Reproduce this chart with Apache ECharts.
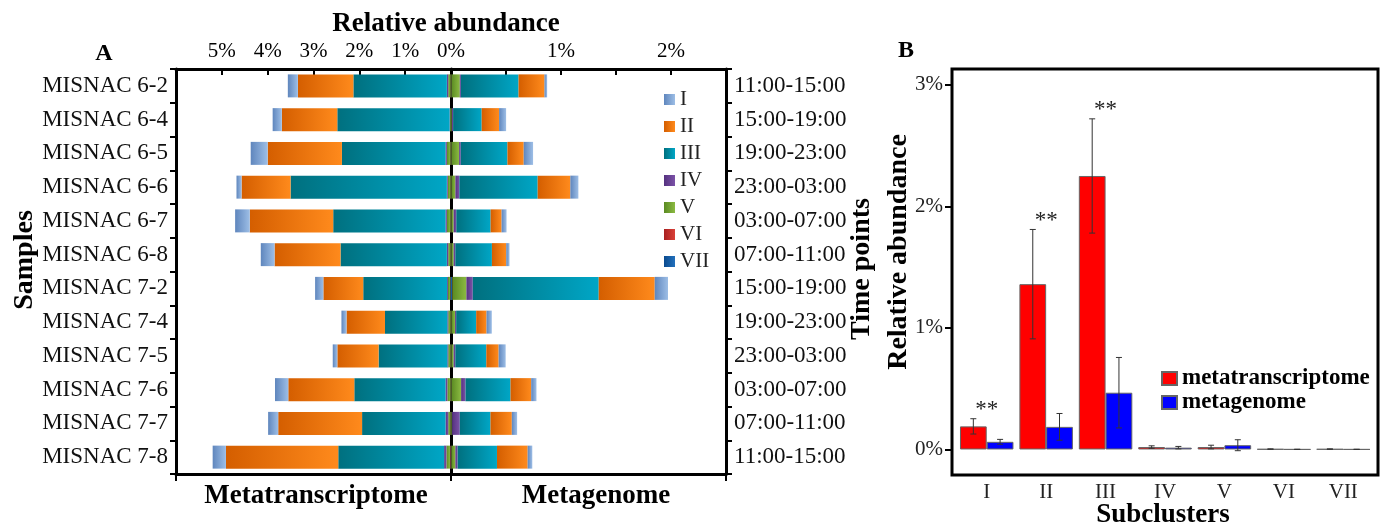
<!DOCTYPE html>
<html>
<head>
<meta charset="utf-8">
<script src="https://cdn.jsdelivr.net/npm/echarts@6/dist/echarts.min.js"></script>
<style>
  html, body { margin: 0; padding: 0; background: #fff; }
  #chart { width: 1385px; height: 528px; }
</style>
</head>
<body>
<div id="chart"></div>
<script>
const samples = ['MISNAC 6-2', 'MISNAC 6-4', 'MISNAC 6-5', 'MISNAC 6-6', 'MISNAC 6-7', 'MISNAC 6-8',
  'MISNAC 7-2', 'MISNAC 7-4', 'MISNAC 7-5', 'MISNAC 7-6', 'MISNAC 7-7', 'MISNAC 7-8']
const timePoints = ['11:00-15:00', '15:00-19:00', '19:00-23:00', '23:00-03:00', '03:00-07:00', '07:00-11:00',
  '15:00-19:00', '19:00-23:00', '23:00-03:00', '03:00-07:00', '07:00-11:00', '11:00-15:00']
const subclusters = ['I', 'II', 'III', 'IV', 'V', 'VI', 'VII']

// panel A, metatranscriptome (%), one array per subcluster
const txI = [0.22, 0.20, 0.37, 0.11, 0.32, 0.30, 0.18, 0.11, 0.10, 0.29, 0.22, 0.29]
const txII = [1.21, 1.21, 1.62, 1.07, 1.82, 1.44, 0.87, 0.84, 0.90, 1.44, 1.83, 2.45]
const txIII = [2.04, 2.45, 2.26, 3.41, 2.45, 2.32, 1.83, 1.36, 1.50, 1.99, 1.82, 2.31]
const txIV = [0.03, 0.01, 0.03, 0.02, 0.03, 0.03, 0.02, 0.02, 0.02, 0.04, 0.06, 0.05]
const txV = [0.05, 0.015, 0.08, 0.06, 0.08, 0.05, 0.05, 0.05, 0.05, 0.07, 0.05, 0.08]
const txVI = [0.005, 0.003, 0.005, 0.005, 0.005, 0.005, 0.005, 0.005, 0.005, 0.005, 0.005, 0.01]
const txVII = [0.005, 0.003, 0.005, 0.005, 0.005, 0.005, 0.01, 0.005, 0.005, 0.005, 0.005, 0.01]

// panel A, metagenome (%)
const mgI = [0.024, 0.064, 0.085, 0.073, 0.045, 0.030, 0.121, 0.048, 0.064, 0.048, 0.048, 0.042]
const mgII = [0.236, 0.158, 0.148, 0.297, 0.100, 0.130, 0.509, 0.094, 0.112, 0.188, 0.194, 0.279]
const mgIII = [0.524, 0.260, 0.424, 0.712, 0.312, 0.333, 1.145, 0.182, 0.282, 0.409, 0.279, 0.358]
const mgIV = [0.010, 0.010, 0.015, 0.036, 0.024, 0.015, 0.058, 0.010, 0.015, 0.040, 0.070, 0.020]
const mgV = [0.076, 0.005, 0.070, 0.036, 0.020, 0.020, 0.127, 0.033, 0.020, 0.088, 0.006, 0.036]
const mgVI = [0.002, 0.002, 0.002, 0.002, 0.002, 0.002, 0.003, 0.002, 0.002, 0.002, 0.002, 0.002]
const mgVII = [0.002, 0.002, 0.002, 0.002, 0.002, 0.002, 0.010, 0.002, 0.002, 0.002, 0.002, 0.002]

// panel B, means and errors (%)
const meanTx = [0.19, 1.36, 2.25, 0.02, 0.02, 0.003, 0.003]
const errTx = [0.063, 0.45, 0.47, 0.01, 0.015, 0.002, 0.002]
const meanMg = [0.063, 0.186, 0.467, 0.015, 0.035, 0.001, 0.001]
const errMg = [0.02, 0.11, 0.29, 0.01, 0.045, 0.001, 0.001]
const significant = [true, true, true, false, false, false, false]

const serif = "'Liberation Serif', 'Times New Roman', serif"

const shades = {
  I: ['#5F86BD', '#9DBEE6'],
  II: ['#D45E00', '#FF8A1C'],
  III: ['#00707F', '#00A6C6'],
  IV: ['#55327F', '#7C52A8'],
  V: ['#5A8A22', '#8BBA42'],
  VI: ['#A82020', '#DA4038'],
  VII: ['#0A4A8E', '#2270BC']
}
const grad = name => new echarts.graphic.LinearGradient(0, 0, 1, 0, [
  { offset: 0, color: shades[name][0] },
  { offset: 1, color: shades[name][1] }
])

const txData = { I: txI, II: txII, III: txIII, IV: txIV, V: txV, VI: txVI, VII: txVII }
const mgData = { I: mgI, II: mgII, III: mgIII, IV: mgIV, V: mgV, VI: mgVI, VII: mgVII }
const stackOrder = ['VII', 'VI', 'V', 'IV', 'III', 'II', 'I']

const chart = echarts.init(document.getElementById('chart'))

const black = { show: true, onZero: false, lineStyle: { color: '#000', width: 3 } }
const tickStyle = { color: '#000', width: 2 }

const series = []
stackOrder.forEach(name => {
  series.push({
    name, type: 'bar', stack: 'tx', xAxisIndex: 0, yAxisIndex: 0,
    barWidth: 23, data: txData[name], itemStyle: { color: grad(name) }
  })
  series.push({
    name, type: 'bar', stack: 'mg', xAxisIndex: 1, yAxisIndex: 1,
    barWidth: 23, data: mgData[name], itemStyle: { color: grad(name) }
  })
})

series.push({
  name: 'metatranscriptome', type: 'bar', xAxisIndex: 4, yAxisIndex: 3,
  data: meanTx, barGap: 0, barCategoryGap: '10%',
  itemStyle: { color: '#FF0000', borderColor: '#666', borderWidth: 1 }
})
series.push({
  name: 'metagenome', type: 'bar', xAxisIndex: 4, yAxisIndex: 3,
  data: meanMg, barGap: 0, barCategoryGap: '10%',
  itemStyle: { color: '#0000FF', borderColor: '#666', borderWidth: 1 }
})

const errorSeries = (means, errs, side, stars) => ({
  type: 'custom', xAxisIndex: 4, yAxisIndex: 3, z: 5, silent: true,
  data: means.map((m, i) => [i, m, errs[i], stars && significant[i] ? 1 : 0]),
  encode: { x: 0, y: 1 },
  renderItem: (params, api) => {
    const i = api.value(0), m = api.value(1), e = api.value(2)
    const band = api.size([1, 0])[0]
    const bw = band * 0.9 / 2
    const center = api.coord([i, m])[0]
    const x = center + side * bw / 2
    const top = api.coord([i, m + e])[1]
    const bot = api.coord([i, m - e])[1]
    const st = { stroke: '#333', lineWidth: 1 }
    const children = [
      { type: 'line', shape: { x1: x, y1: top, x2: x, y2: bot }, style: st },
      { type: 'line', shape: { x1: x - 3, y1: top, x2: x + 3, y2: top }, style: st },
      { type: 'line', shape: { x1: x - 3, y1: bot, x2: x + 3, y2: bot }, style: st }
    ]
    if (api.value(3)) {
      children.push({
        type: 'text', x: center, y: top - 9,
        style: { text: '**', font: '23px ' + serif, fill: '#222', textAlign: 'center', textVerticalAlign: 'middle' }
      })
    }
    return { type: 'group', children }
  }
})
series.push(errorSeries(meanTx, errTx, -1, true))
series.push(errorSeries(meanMg, errMg, 1, false))

const text = (t, x, y, size, bold, rot) => ({
  type: 'text', x, y, rotation: rot || 0,
  style: {
    text: t, font: (bold ? 'bold ' : '') + size + 'px ' + serif, fill: '#000',
    textAlign: 'center', textVerticalAlign: 'middle'
  }
})

const option = {
  animation: false,
  backgroundColor: '#fff',
  grid: [
    { left: 176, top: 69, width: 275, height: 405 },
    { left: 451, top: 69, width: 275, height: 405 },
    { left: 952, top: 69, width: 426, height: 406, show: true, borderColor: '#000', borderWidth: 3, backgroundColor: 'transparent' },
    { left: 957, top: 69, width: 416, height: 406 }
  ],
  xAxis: [
    {
      gridIndex: 0, type: 'value', min: 0, max: 6, interval: 1, inverse: true, position: 'top',
      axisLine: black, axisTick: { show: true, inside: true, length: 6, lineStyle: tickStyle },
      splitLine: { show: false },
      axisLabel: { margin: 7, fontFamily: serif, fontSize: 21, color: '#000', formatter: v => v === 6 ? '' : v + '%' }
    },
    {
      gridIndex: 1, type: 'value', min: 0, max: 2.5, interval: 0.5, position: 'top',
      axisLine: black, axisTick: { show: true, inside: true, length: 6, lineStyle: tickStyle },
      splitLine: { show: false },
      axisLabel: { margin: 7, fontFamily: serif, fontSize: 21, color: '#000', formatter: v => (v === 1 || v === 2) ? v + '%' : '' }
    },
    {
      gridIndex: 0, type: 'value', min: 0, max: 6, inverse: true, position: 'bottom',
      axisLine: black, axisTick: { show: true, length: 7, lineStyle: tickStyle, customValues: [0, 6] },
      splitLine: { show: false }, axisLabel: { show: false }
    },
    {
      gridIndex: 1, type: 'value', min: 0, max: 2.5, position: 'bottom',
      axisLine: black, axisTick: { show: true, length: 7, lineStyle: tickStyle, customValues: [2.5] },
      splitLine: { show: false }, axisLabel: { show: false }
    },
    {
      gridIndex: 3, type: 'category', data: subclusters,
      axisLine: { show: false }, axisTick: { show: false },
      axisLabel: { margin: 7, fontFamily: serif, fontSize: 21, color: '#222' }
    }
  ],
  yAxis: [
    {
      gridIndex: 0, type: 'category', data: samples, inverse: true, position: 'left',
      axisLine: black, axisTick: { show: true, length: 6, lineStyle: tickStyle },
      axisLabel: { margin: 8, fontFamily: serif, fontSize: 23, color: '#111' }
    },
    {
      gridIndex: 1, type: 'category', data: samples, inverse: true, position: 'right',
      axisLine: black, axisTick: { show: true, length: 6, lineStyle: tickStyle },
      axisLabel: { margin: 8, fontFamily: serif, fontSize: 23, color: '#111', formatter: (v, i) => timePoints[i] }
    },
    {
      gridIndex: 1, type: 'category', data: samples, inverse: true, position: 'left',
      axisLine: black, axisTick: { show: false }, axisLabel: { show: false }
    },
    {
      gridIndex: 3, type: 'value', min: -0.21, max: 3.13, offset: 5,
      axisLine: { show: false }, splitLine: { show: false },
      axisTick: { show: true, length: 7, lineStyle: tickStyle, customValues: [0, 1, 2, 3] },
      axisLabel: { margin: 9, fontFamily: serif, fontSize: 21, color: '#222', customValues: [0, 1, 2, 3], formatter: v => v + '%' }
    }
  ],
  legend: [
    {
      data: subclusters, orient: 'vertical', left: 659, top: 84,
      itemWidth: 11, itemHeight: 11, itemGap: 6, icon: 'rect',
      textStyle: { fontFamily: serif, fontSize: 21, lineHeight: 20, color: '#222' }
    },
    {
      data: ['metatranscriptome', 'metagenome'], orient: 'vertical', left: 1156, top: 362,
      itemWidth: 15, itemHeight: 13, itemGap: 1, icon: 'rect',
      textStyle: { fontFamily: serif, fontSize: 23, fontWeight: 'bold', lineHeight: 19, color: '#000' }
    }
  ],
  graphic: [
    text('Relative abundance', 446, 24, 27, true),
    text('A', 104, 54, 24, true),
    text('B', 906, 51, 24, true),
    text('Samples', 25, 260, 28, true, Math.PI / 2),
    text('Time points', 862, 269, 28, true, Math.PI / 2),
    text('Relative abundance', 899, 252, 28, true, Math.PI / 2),
    text('Metatranscriptome', 316, 496, 27, true),
    text('Metagenome', 596, 496, 27, true),
    text('Subclusters', 1163, 515, 27, true)
  ],
  series
}

chart.setOption(option)
</script>
</body>
</html>
